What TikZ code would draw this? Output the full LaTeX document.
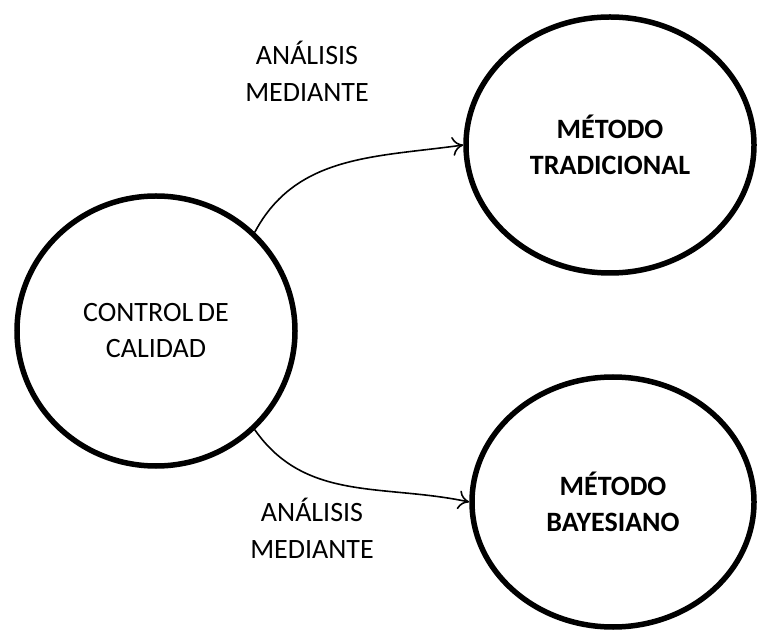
\documentclass[tikz,border=0pt]{standalone}
\usepackage{fontspec}
\setmainfont{Carlito}
\usetikzlibrary{shapes.geometric,arrows.meta}
\begin{document}
\begin{tikzpicture}[x=1pt,y=1pt,
  bubble/.style={ellipse,draw,line width=5.5pt,inner sep=0pt,align=center,
    font=\fontsize{28}{36}\selectfont},
  caption/.style={align=center,font=\fontsize{28}{37}\selectfont},
  link/.style={line width=1.6pt,-{To[length=11pt,width=19pt]}}]
\useasboundingbox (0,0) rectangle (757,632);
% three states
\node[bubble,minimum width=278pt,minimum height=270pt] (ctrl) at (156,301) {CONTROL\,DE\\CALIDAD};
\node[bubble,minimum width=288pt,minimum height=256pt] (trad) at (610,487) {\bfseries MÉTODO\\\bfseries TRADICIONAL};
\node[bubble,minimum width=282pt,minimum height=250pt] (bayes) at (613,130) {\bfseries MÉTODO\\\bfseries BAYESIANO};
% edge captions
\node[caption] (lab1) at (307,561) {ANÁLISIS\\MEDIANTE};
\node[caption] (lab2) at (312,104) {ANÁLISIS\\MEDIANTE};
% transitions
\draw[link] (ctrl.45) to[out=62,in=188] (trad.west);
\draw[link] (ctrl.-45) to[out=-55,in=168] (bayes.west);
\end{tikzpicture}
\end{document}
